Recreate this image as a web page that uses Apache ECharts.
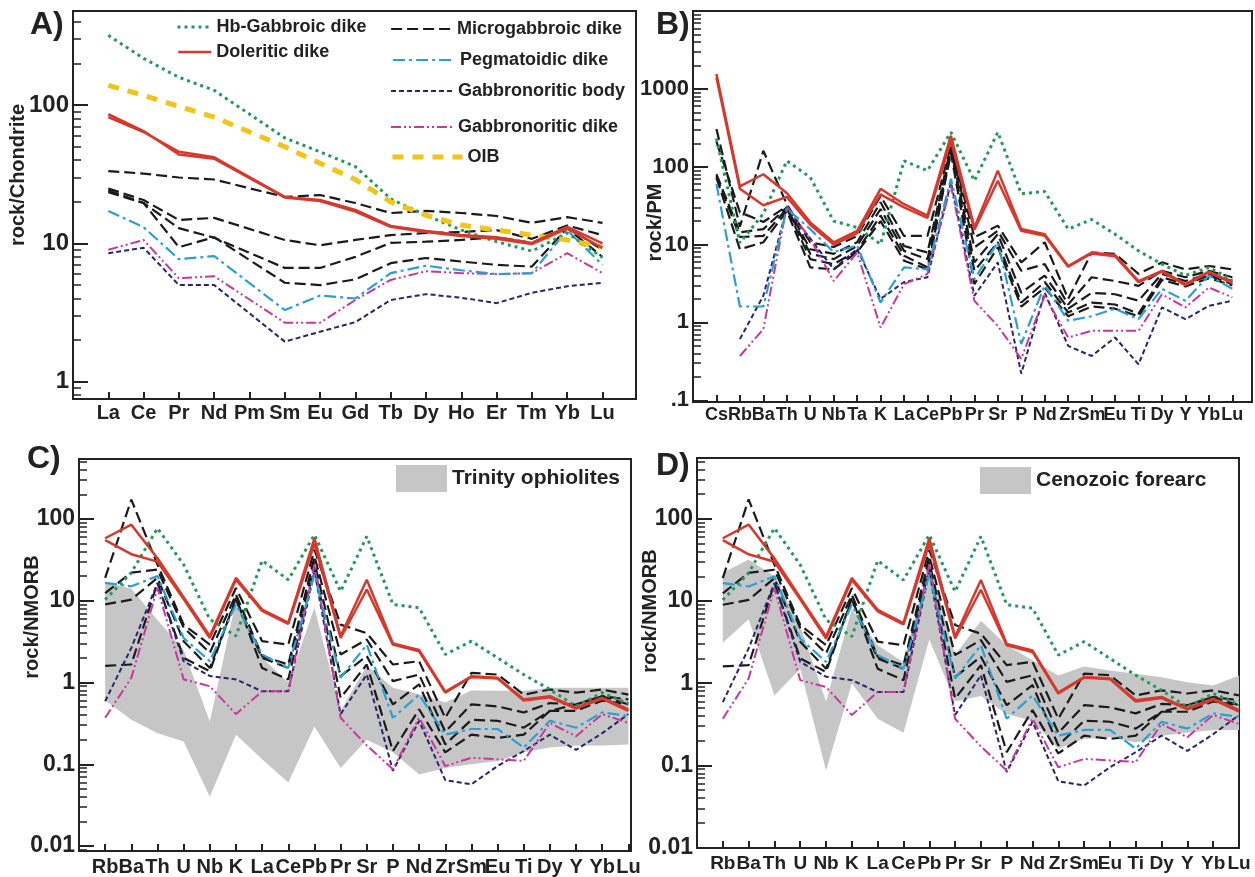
<!DOCTYPE html>
<html>
<head>
<meta charset="utf-8">
<script src="https://cdn.jsdelivr.net/npm/echarts@6/dist/echarts.min.js"></script>
<style>
  html, body { margin: 0; padding: 0; background: #fff; }
  #main { width: 1255px; height: 877px; }
</style>
</head>
<body>
<div id="main"></div>
<script>
// element order of each diagram
const reeCats = ['La', 'Ce', 'Pr', 'Nd', 'Pm', 'Sm', 'Eu', 'Gd', 'Tb', 'Dy', 'Ho', 'Er', 'Tm', 'Yb', 'Lu'];
const pmCats = ['Cs', 'Rb', 'Ba', 'Th', 'U', 'Nb', 'Ta', 'K', 'La', 'Ce', 'Pb', 'Pr', 'Sr', 'P', 'Nd', 'Zr', 'Sm', 'Eu', 'Ti', 'Dy', 'Y', 'Yb', 'Lu'];
const morbCats = ['Rb', 'Ba', 'Th', 'U', 'Nb', 'K', 'La', 'Ce', 'Pb', 'Pr', 'Sr', 'P', 'Nd', 'Zr', 'Sm', 'Eu', 'Ti', 'Dy', 'Y', 'Yb', 'Lu'];

// A) chondrite normalised REE (Pm not analysed)
const hbA   = [320, 218, 159, 128, null, 58, 46, 36, 21, 16, 12.5, 10.3, 8.8, 11.9, 7.9];
const dolA1 = [82, 64, 46, 42, null, 21.7, 20.6, 17.5, 13.4, 12.3, 11.5, 11.1, 10.1, 13.2, 10];
const dolA2 = [86, 65, 44, 41, null, 21.5, 20.3, 17, 13.2, 12.1, 11.3, 10.8, 9.9, 12.8, 9.3];
const micA1 = [33.4, 32, 30, 29, null, 21.7, 22.4, 19.6, 16.6, 17.2, 16.6, 15.8, 14.1, 15.5, 14.1];
const micA2 = [25, 20.6, 14.8, 15.3, null, 10.6, 9.7, 10.6, 11.5, 11.9, 12.1, 12.5, 10.8, 13.5, 11.5];
const micA3 = [24.2, 19.6, 12.9, 11, null, 6.65, 6.65, 8.0, 10.1, 10.3, 10.6, 11.1, 10.1, 13.1, 9.0];
const micA4 = [23.5, 19.6, 9.4, 11.1, null, 5.2, 5.0, 5.5, 7.2, 7.85, 7.4, 7.0, 6.8, 12.9, 8.0];
const pegA  = [17.2, 13.1, 7.7, 8.1, null, 3.3, 4.2, 4.0, 6.1, 6.9, 6.4, 6.0, 6.1, 12.5, 7.0];
const gbnA  = [8.5, 9.3, 5.0, 5.0, null, 1.95, 2.3, 2.7, 3.9, 4.3, 4.05, 3.7, 4.4, 4.9, 5.2];
const gndA  = [9.0, 10.6, 5.6, 5.8, null, 2.67, 2.67, 3.9, 5.45, 6.3, 6.1, 6.0, 6.1, 8.5, 6.1];
const oibA  = [139, 118, 98, 82, null, 50, 38, 29, 20, 16, 13.6, 12.5, 11.5, 10.6, 9.4];

// B) primitive mantle normalised
const hbB   = [230, 10.5, 25, 119, 73, 20, 16.6, 10.1, 119, 89, 277, 66, 277, 45, 48, 15.8, 21, 13.6, 8.3, 5.6, 4.0, 5.1, 3.5];
const dolB1 = [1550, 56, 80, 46, 19.3, 10.7, 15, 52, 33, 23.5, 250, 16.6, 89, 15.8, 13.6, 5.3, 7.9, 7.3, 3.4, 4.6, 3.1, 4.5, 3.3];
const dolB2 = [1400, 52, 32, 41, 18, 10, 14, 44, 30, 22, 215, 15.5, 66, 15, 13, 5.2, 7.7, 7.1, 3.3, 4.5, 3.0, 4.4, 3.2];
const micB1 = [305, 17, 160, 33, 10.7, 9.3, 12.9, 42, 12.9, 12.9, 190, 12.4, 17.5, 5.9, 10.7, 2.0, 7.9, 7.6, 4.2, 5.9, 4.8, 5.3, 4.8];
const micB2 = [210, 26, 19.5, 31, 8.7, 7.6, 10.7, 35, 9.6, 7.9, 180, 9.2, 15, 4.6, 5.6, 1.7, 3.8, 3.4, 2.95, 4.6, 3.8, 4.6, 3.8];
const micB3 = [80, 14.4, 15.8, 30, 7.6, 6.5, 9.6, 28.6, 8.3, 6.5, 170, 5.9, 13.6, 2.4, 4.0, 1.5, 2.4, 2.3, 1.9, 4.2, 3.4, 4.2, 3.4];
const micB4 = [76, 12.5, 12.9, 29, 6.5, 5.6, 8.3, 23.5, 7.2, 5.1, 160, 4.6, 10.7, 1.8, 3.3, 1.34, 1.8, 1.7, 1.3, 3.8, 3.1, 4.0, 3.1];
const micB5 = [72, 8.7, 10.7, 27, 5.1, 4.8, 8.0, 20, 6.2, 4.8, 150, 3.1, 9.2, 1.6, 2.8, 1.2, 1.6, 1.5, 1.2, 3.5, 2.9, 3.7, 3.0];
const pegB  = [60, 1.6, 1.6, 29, 15.8, 8, 9.7, 1.8, 5.1, 4.8, 70, 3.6, 10.7, 0.53, 3.0, 1.05, 1.2, 1.5, 1.1, 2.7, 1.9, 4.0, 2.7];
const gndB  = [null, 0.37, 0.82, 31, 11.8, 3.4, 7.9, 0.86, 3.1, 4.2, 57, 1.9, 0.9, 0.34, 2.2, 0.64, 0.78, 0.78, 0.78, 2.3, 1.56, 2.8, 2.1];
const gbnB  = [null, 0.61, 2.2, 29, 12, 4.8, 8.8, 2.0, 3.3, 3.8, 63, 2.2, 5.9, 0.22, 2.4, 0.5, 0.37, 0.64, 0.29, 1.56, 1.1, 1.63, 1.9];

// C) and D) N-MORB normalised (same samples, different reference fields)
const hbN   = [10.3, 22, 77, 27.6, 5.9, 3.7, 31, 18, 64, 13, 61, 9.0, 8.2, 2.2, 3.2, 2.0, 1.25, 0.82, 0.51, 0.75, 0.55];
const dolN1 = [58, 85, 33, 11, 3.7, 19, 7.8, 5.4, 58, 3.7, 18, 3.0, 2.5, 0.77, 1.19, 1.14, 0.62, 0.68, 0.49, 0.65, 0.47];
const dolN2 = [55, 37, 30, 10.5, 3.5, 18, 7.5, 5.2, 50, 3.5, 13.7, 2.9, 2.4, 0.75, 1.17, 1.12, 0.6, 0.66, 0.48, 0.63, 0.45];
const micN1 = [19, 172, 27.6, 5.1, 2.9, 14.3, 3.2, 2.9, 42, 5.1, 4.0, 1.66, 1.82, 0.37, 1.31, 1.25, 0.71, 0.82, 0.75, 0.82, 0.71];
const micN2 = [12.4, 22, 24, 4.7, 2.3, 11.9, 2.1, 1.66, 35, 2.2, 3.35, 1.04, 1.25, 0.25, 0.54, 0.51, 0.43, 0.56, 0.54, 0.68, 0.62];
const micN3 = [9, 10.3, 19, 3.2, 1.5, 10.3, 2.0, 1.5, 30, 1.19, 2.1, 0.54, 0.95, 0.175, 0.35, 0.34, 0.28, 0.45, 0.45, 0.6, 0.54];
const micN4 = [1.6, 1.66, 16.5, 2.0, 1.37, 10.8, 1.5, 1.09, 26, 0.65, 1.66, 0.145, 0.47, 0.14, 0.23, 0.21, 0.23, 0.45, 0.54, 0.68, 0.54];
const pegN  = [16.5, 15, 20, 3.5, 1.82, 9.0, 2.2, 1.5, 21, 1.14, 2.9, 0.37, 0.71, 0.23, 0.27, 0.27, 0.16, 0.34, 0.28, 0.43, 0.39];
const gndN  = [0.37, 1.14, 14.3, 1.09, 0.9, 0.41, 0.78, 0.78, 28, 0.37, 0.17, 0.087, 0.37, 0.095, 0.12, 0.115, 0.11, 0.32, 0.22, 0.41, 0.32];
const gbnN  = [0.59, 2.65, 16.5, 1.82, 1.2, 1.09, 0.78, 0.78, 23, 0.41, 1.25, 0.083, 0.34, 0.064, 0.057, 0.095, 0.145, 0.23, 0.15, 0.24, 0.41];

// reference fields
const trinLow  = [0.6, 0.35, 0.24, 0.19, 0.04, 0.23, 0.115, 0.06, 0.29, 0.09, 0.2, 0.14, 0.075, 0.09, 0.1, 0.11, 0.14, 0.16, 0.17, 0.17, 0.175];
const trinHigh = [17, 14, 5.8, 2.5, 0.33, 10, 2.0, 1.0, 8.2, 0.45, 1.6, 0.86, 0.72, 0.57, 0.8, 0.79, 0.79, 0.86, 0.86, 0.86, 0.86];
const foreLow  = [3.1, 6.0, 0.71, 1.5, 0.087, 1.0, 0.37, 0.25, 3.4, 0.6, 0.7, 0.42, 0.35, 0.16, 0.21, 0.22, 0.19, 0.23, 0.25, 0.27, 0.27];
const foreHigh = [22, 32, 20, 5, 0.6, 8, 2.9, 1.8, 30, 2.2, 5.75, 2.9, 1.9, 1.24, 1.6, 1.43, 1.3, 1.18, 1.03, 0.94, 1.24];

// y tick labels
const majorA = [1, 10, 100];
const majorB = [0.1, 1, 10, 100, 1000];
const majorN = [0.01, 0.1, 1, 10, 100];
const minorSteps = [2, 3, 4, 5, 6, 7, 8, 9];

const FONT = 'Liberation Sans';
const INK = '#222';
const GREY = '#c6c6c6';

const styles = {
  'Hb-Gabbroic dike':   { color: '#23985a', width: 3, type: [3, 4], z: 4 },
  'Doleritic dike':     { color: '#d5392d', width: 2.5, type: 'solid', z: 6 },
  'Microgabbroic dike': { color: '#1a1a1a', width: 2.2, type: [11, 5], z: 3 },
  'Pegmatoidic dike':   { color: '#2aa0d2', width: 2.2, type: [12, 4, 3, 4], z: 4 },
  'Gabbronoritic body': { color: '#27256b', width: 2, type: [5, 3], z: 4 },
  'Gabbronoritic dike': { color: '#c8379c', width: 2, type: [10, 3, 2, 3, 2, 3], z: 4 },
  'OIB':                { color: '#f0c419', width: 5, type: [11, 9], z: 5 }
};

function minorTicks(min, max) {
  const out = [];
  for (let e = -3; e <= 4; e++) {
    minorSteps.forEach(s => {
      const v = +(s * Math.pow(10, e)).toPrecision(3);
      if (v >= min && v <= max) out.push(v);
    });
  }
  return out;
}

function fmt(v) {
  return String(+(+v).toPrecision(3));
}

function xAxisFor(g, cats, max, fontSize, margin) {
  const idx = cats.map((c, i) => i);
  return {
    type: 'value', gridIndex: g, min: -1, max: max,
    splitLine: { show: false },
    axisLine: { show: true, onZero: false, lineStyle: { color: INK, width: 2 } },
    axisTick: { show: true, inside: true, length: 7, customValues: idx, lineStyle: { color: INK, width: 2 } },
    axisLabel: {
      customValues: idx, formatter: v => cats[Math.round(v)],
      hideOverlap: false, showMinLabel: true, showMaxLabel: true,
      fontSize: fontSize, fontWeight: 'bold', color: INK, fontFamily: FONT, margin: margin
    }
  };
}

function yAxesFor(g, min, max, majors, labelFn, fontSize, name, nameGap, shift) {
  const base = { type: 'log', logBase: 10, gridIndex: g, min: min, max: max, position: 'left', splitLine: { show: false } };
  return [
    Object.assign({}, base, {
      name: name, nameLocation: 'middle', nameGap: nameGap, nameRotate: 90, nameMoveOverlap: false,
      nameTextStyle: {
        fontSize: 20, fontWeight: 'bold', color: INK, fontFamily: FONT,
        padding: shift > 0 ? [0, 0, 0, shift] : [0, -shift, 0, 0]
      },
      axisLine: { show: true, onZero: false, lineStyle: { color: INK, width: 2 } },
      axisTick: { show: true, inside: true, length: 15, customValues: majors, lineStyle: { color: INK, width: 2 } },
      axisLabel: {
        customValues: majors, formatter: labelFn, showMinLabel: true, showMaxLabel: true,
        fontSize: fontSize, fontWeight: 'bold', color: INK, fontFamily: FONT, margin: 4
      }
    }),
    Object.assign({}, base, {
      axisLine: { show: false, onZero: false },
      axisLabel: { show: false },
      axisTick: { show: true, inside: true, length: 8, customValues: minorTicks(min, max), lineStyle: { color: INK, width: 1.5 } }
    })
  ];
}

function line(name, values, g) {
  const st = styles[name];
  return {
    name: name, type: 'line', xAxisIndex: g, yAxisIndex: 2 * g,
    data: values.map((v, i) => [i, v]).filter(p => p[1] != null),
    symbol: 'none', connectNulls: true, silent: true, z: st.z,
    lineStyle: { color: st.color, width: st.width, type: st.type },
    itemStyle: { color: st.color }
  };
}

// reference field: polygon between the low and high envelopes, placed with the axes' own scales
function band(name, low, high, g) {
  return {
    name: name, type: 'custom', xAxisIndex: g, yAxisIndex: 2 * g, silent: true, z: 1,
    itemStyle: { color: GREY },
    data: [[0, high[0]]],
    renderItem: (params, api) => {
      const top = high.map((v, i) => api.coord([i, v]));
      const bottom = low.map((v, i) => api.coord([i, v])).reverse();
      return { type: 'polygon', shape: { points: top.concat(bottom) }, style: { fill: GREY } };
    }
  };
}

const series = [
  line('Microgabbroic dike', micA1, 0), line('Microgabbroic dike', micA2, 0),
  line('Microgabbroic dike', micA3, 0), line('Microgabbroic dike', micA4, 0),
  line('Gabbronoritic body', gbnA, 0), line('Gabbronoritic dike', gndA, 0),
  line('Pegmatoidic dike', pegA, 0), line('Hb-Gabbroic dike', hbA, 0),
  line('OIB', oibA, 0), line('Doleritic dike', dolA1, 0), line('Doleritic dike', dolA2, 0),

  line('Microgabbroic dike', micB1, 1), line('Microgabbroic dike', micB2, 1),
  line('Microgabbroic dike', micB3, 1), line('Microgabbroic dike', micB4, 1),
  line('Microgabbroic dike', micB5, 1),
  line('Gabbronoritic body', gbnB, 1), line('Gabbronoritic dike', gndB, 1),
  line('Pegmatoidic dike', pegB, 1), line('Hb-Gabbroic dike', hbB, 1),
  line('Doleritic dike', dolB1, 1), line('Doleritic dike', dolB2, 1)
];
[[2, 'Trinity ophiolites', trinLow, trinHigh], [3, 'Cenozoic forearc', foreLow, foreHigh]].forEach(([g, nm, lo, hi]) => {
  series.push(band(nm, lo, hi, g));
  series.push(
    line('Microgabbroic dike', micN1, g), line('Microgabbroic dike', micN2, g),
    line('Microgabbroic dike', micN3, g), line('Microgabbroic dike', micN4, g),
    line('Gabbronoritic body', gbnN, g), line('Gabbronoritic dike', gndN, g),
    line('Pegmatoidic dike', pegN, g), line('Hb-Gabbroic dike', hbN, g),
    line('Doleritic dike', dolN1, g), line('Doleritic dike', dolN2, g)
  );
});

const legendText = { fontSize: 18, fontWeight: 'bold', color: INK, fontFamily: FONT };
function lineLegend(name, left, top, w) {
  return {
    data: [name], left: left, top: top, itemWidth: w, itemHeight: 14, padding: 0,
    selectedMode: false, textStyle: legendText,
    lineStyle: { width: 'inherit' },
    itemStyle: { color: 'transparent', borderWidth: 0, opacity: 0 }
  };
}
function bandLegend(name, left, top) {
  return {
    data: [{ name: name, icon: 'rect' }], left: left, top: top, itemWidth: 51, itemHeight: 27, padding: 0,
    selectedMode: false, itemStyle: { color: GREY },
    textStyle: { fontSize: 21, fontWeight: 'bold', color: INK, fontFamily: FONT }
  };
}

const letter = (t, left, top) => ({ text: t, left: left, top: top, padding: 0,
  textStyle: { fontSize: 32, fontWeight: 'bold', color: INK, fontFamily: FONT } });

const option = {
  animation: false,
  backgroundColor: '#fff',
  textStyle: { fontFamily: FONT },
  title: [letter('A)', 30, 9), letter('B)', 656, 9), letter('C)', 27, 443), letter('D)', 656, 450)],
  grid: [
    { left: 73, top: 11, width: 563, height: 388 },
    { left: 693, top: 11, width: 559, height: 391 },
    { left: 79, top: 459, width: 552, height: 393 },
    { left: 697, top: 458, width: 542, height: 390 }
  ].map(g => Object.assign(g, { show: true, borderColor: INK, borderWidth: 2, backgroundColor: 'transparent' })),
  xAxis: [
    xAxisFor(0, reeCats, 14.95, 20, 4),
    xAxisFor(1, pmCats, 22.84, 18, 4),
    xAxisFor(2, morbCats, 20.1, 20, 6),
    xAxisFor(3, morbCats, 20.0, 19, 6)
  ],
  yAxis: [].concat(
    yAxesFor(0, 0.75, 480, majorA, fmt, 24, 'rock/Chondrite', 45, 60),
    yAxesFor(1, 0.095, 10000, majorB, v => (v < 1 ? '.1' : fmt(v)), 22, 'rock/PM', 28, -32),
    yAxesFor(2, 0.0087, 540, majorN, fmt, 23, 'rock/NMORB', 37, 76),
    yAxesFor(3, 0.0099, 549, majorN, fmt, 23, 'rock/NMORB', 37, 84)
  ),
  legend: [
    lineLegend('Hb-Gabbroic dike', 176, 18, 34),
    lineLegend('Doleritic dike', 177, 43, 33),
    lineLegend('Microgabbroic dike', 390, 20, 61),
    lineLegend('Pegmatoidic dike', 392, 51, 62),
    lineLegend('Gabbronoritic body', 390, 82, 62),
    lineLegend('Gabbronoritic dike', 390, 118, 62),
    lineLegend('OIB', 390, 148, 70),
    bandLegend('Trinity ophiolites', 396, 465),
    bandLegend('Cenozoic forearc', 980, 467)
  ],
  series: series
};

const chart = echarts.init(document.getElementById('main'));
chart.setOption(option);
</script>
</body>
</html>
